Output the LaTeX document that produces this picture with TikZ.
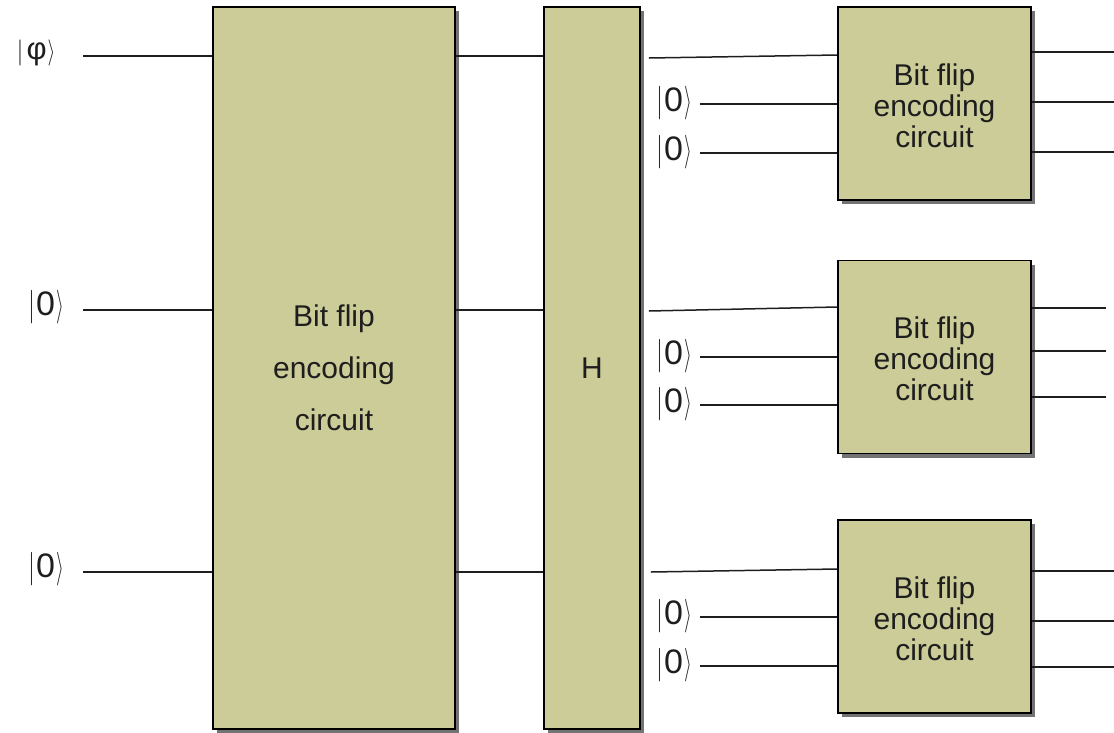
\documentclass[tikz,border=0pt]{standalone}
\usepackage{fontspec}
\usepackage{graphicx}
\setmainfont{Liberation Sans}
\usetikzlibrary{shadows}
\definecolor{boxfill}{RGB}{204,204,153}
\definecolor{ink}{RGB}{30,30,30}
\newcommand{\kzero}{{\fontsize{34}{38}\selectfont\scalebox{1}[1.35]{$|$}\kern1pt 0\kern1pt\scalebox{0.8}[1.35]{$\rangle$}}}
\newcommand{\kphi}{{\fontsize{31}{34}\selectfont\scalebox{1}[1.05]{$|$}\kern3pt φ\kern1pt\scalebox{0.8}[1.05]{$\rangle$}}}
\tikzset{
  gate/.style={draw=black, line width=1.6pt, fill=boxfill, inner sep=0pt, anchor=center,
    drop shadow={shadow xshift=4pt, shadow yshift=-4pt, fill=black, opacity=0.55}},
  wire/.style={draw=ink, line width=1.5pt},
  ketlabel/.style={inner sep=0pt, text=ink, anchor=center},
  gatetext/.style={text=ink, align=center}
}
\begin{document}
\begin{tikzpicture}[x=1pt, y=-1pt]
\useasboundingbox (0,0) rectangle (1114,732);
% gates
\node[gate, minimum width=242pt, minimum height=722pt] (big) at (334,368) {};
\node[gatetext, font=\fontsize{30}{52}\selectfont] at (big.center) {Bit flip\\encoding\\circuit};
\node[gate, minimum width=96pt, minimum height=722pt] (H) at (592,368) {};
\node[gatetext, font=\fontsize{30}{36}\selectfont] at (H.center) {H};
\node[gate, minimum width=193pt, minimum height=193pt] (s1) at (934.5,103.5) {};
\node[gate, minimum width=193pt, minimum height=193pt] (s2) at (934.5,357) {};
\node[gate, minimum width=193pt, minimum height=193pt] (s3) at (934.5,616.5) {};
\foreach \s in {s1,s2,s3}{
  \node[gatetext, font=\fontsize{30}{31}\selectfont] at ([yshift=-2pt]\s.center) {Bit flip\\encoding\\circuit};
}
% left kets
\node[ketlabel] (kp) at (36,53) {\kphi};
\node[ketlabel] (k2) at (46,307) {\kzero};
\node[ketlabel] (k3) at (46,569) {\kzero};
% wire start coordinates
\coordinate (w1) at (83,56);
\coordinate (w2) at (83,310);
\coordinate (w3) at (83,572);
\draw[wire] (w1) -- (w1 -| big.west);
\draw[wire] (w2) -- (w2 -| big.west);
\draw[wire] (w3) -- (w3 -| big.west);
\draw[wire] (w1 -| big.east) -- (w1 -| H.west);
\draw[wire] (w2 -| big.east) -- (w2 -| H.west);
\draw[wire] (w3 -| big.east) -- (w3 -| H.west);
% H to small boxes
\draw[wire] ([xshift=8pt, yshift=-2pt]w1 -| H.east) -- ([yshift=1pt]w1 -| s1.west);
\draw[wire] ([xshift=8pt, yshift=-1pt]w2 -| H.east) -- ([yshift=3pt]w2 -| s2.west);
\draw[wire] ([xshift=10pt, yshift=0pt]w3 -| H.east) -- ([yshift=3pt]w3 -| s3.west);
% ancilla kets
\node[ketlabel] (a11) at (674,103) {\kzero};
\node[ketlabel] (a12) at (674,152) {\kzero};
\node[ketlabel] (a21) at (674,356) {\kzero};
\node[ketlabel] (a22) at (674,404) {\kzero};
\node[ketlabel] (a31) at (674,616) {\kzero};
\node[ketlabel] (a32) at (674,665) {\kzero};
\coordinate (c11) at (700,104);
\coordinate (c12) at (700,153);
\coordinate (c21) at (700,357);
\coordinate (c22) at (700,405);
\coordinate (c31) at (700,617);
\coordinate (c32) at (700,666);
\foreach \c/\s in {c11/s1,c12/s1,c21/s2,c22/s2,c31/s3,c32/s3}{
  \draw[wire] (\c) -- (\c -| \s.west);
}
% outputs
\coordinate (o11) at (1114,52);
\coordinate (o12) at (1114,102);
\coordinate (o13) at (1114,152);
\coordinate (o21) at (1106,308);
\coordinate (o22) at (1106,351);
\coordinate (o23) at (1106,397);
\coordinate (o31) at (1114,571);
\coordinate (o32) at (1114,621);
\coordinate (o33) at (1114,667);
\foreach \o/\s in {o11/s1,o12/s1,o13/s1,o21/s2,o22/s2,o23/s2,o31/s3,o32/s3,o33/s3}{
  \draw[wire] (\o -| \s.east) -- (\o);
}
\end{tikzpicture}
\end{document}
